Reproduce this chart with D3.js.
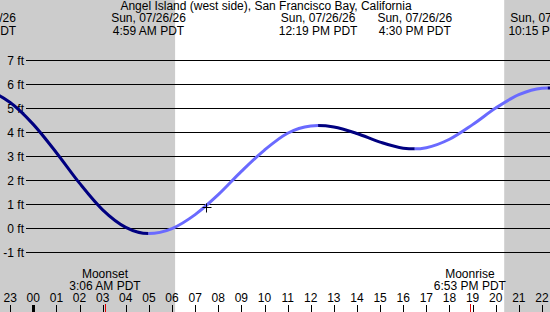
<!DOCTYPE html>
<html><head><meta charset="utf-8">
<script src="https://cdn.jsdelivr.net/npm/d3@7"></script>
<style>
html,body{margin:0;padding:0;background:#fff;}
svg{display:block;font-family:"Liberation Sans",Arial,sans-serif;}
</style></head>
<body>
<script>
// ---- data (hours relative to midnight, Sun 07/26/26, PDT) ----
const title = "Angel Island (west side), San Francisco Bay, California";
const hourlyTimes = [-2,-1,0,1,2,3,4,5,6,7,8,9,10,11,12,13,14,15,16,17,18,19,20,21,22,23];
const hourlyHeights = [5.72,5.24,4.33,3.15,1.88,0.77,0.04,-0.22,-0.01,0.57,1.40,2.37,3.26,3.96,4.26,4.22,3.95,3.59,3.34,3.36,3.71,4.32,5.01,5.57,5.84,5.73];
const eventHours = [-2.3, 4.983, 12.317, 16.5, 22.25];
const eventHeights = [5.75, -0.22, 4.28, 3.31, 5.85];
const eventDates = ["Sat, 07/25/26","Sun, 07/26/26","Sun, 07/26/26","Sun, 07/26/26","Sun, 07/26/26"];
const eventTimes = ["9:42 PM PDT","4:59 AM PDT","12:19 PM PDT","4:30 PM PDT","10:15 PM PDT"];
const sunriseHour = 6.133, sunsetHour = 20.367;
const moonEvents = [{name:"Moonset", time:"3:06 AM PDT", hour:3.1},{name:"Moonrise", time:"6:53 PM PDT", hour:18.883}];
const tickHours = d3.range(-1, 23);
const tickLabels = ["23","00","01","02","03","04","05","06","07","08","09","10","11","12","13","14","15","16","17","18","19","20","21","22"];
const yTicks = [-1,0,1,2,3,4,5,6,7];
const yTickLabels = ["-1 ft","0 ft","1 ft","2 ft","3 ft","4 ft","5 ft","6 ft","7 ft"];
const nowMark = {hour:7.47, height:0.89};

const W = 550, H = 312;
const x = d3.scaleLinear().domain([-1.44, 22.348]).range([0, W]);
const y = d3.scaleLinear().domain([-1, 7]).range([252.3, 60.3]);

const svg = d3.select("body").append("svg").attr("width", W).attr("height", H);
svg.append("rect").attr("width", W).attr("height", H).attr("fill", "#fff");

// night shading
svg.append("rect").attr("x", 0).attr("y", 0).attr("width", x(sunriseHour)).attr("height", H).attr("fill", "#cccccc");
svg.append("rect").attr("x", x(sunsetHour)).attr("y", 0).attr("width", W - x(sunsetHour)).attr("height", H).attr("fill", "#cccccc");

// grid lines + y labels
yTicks.forEach((v, i) => {
  const yy = Math.round(y(v)) + 0.5;
  svg.append("line").attr("x1", 26).attr("x2", W).attr("y1", yy).attr("y2", yy).attr("stroke", "#000").attr("stroke-width", 1);
  svg.append("text").attr("x", 24).attr("y", yy).attr("dy", "0.36em").attr("text-anchor", "end")
    .attr("font-size", 12).attr("fill", "#000").text(yTickLabels[i]);
});

// tide curve
let pts = hourlyTimes.map((t, i) => ({t, h: hourlyHeights[i]}))
  .filter(p => !eventHours.some(e => Math.abs(e - p.t) < 0.15));
eventHours.forEach((t, i) => pts.push({t, h: eventHeights[i]}));
pts.sort((a, b) => a.t - b.t);
const line = d3.line().x(d => x(d.t)).y(d => y(d.h)).curve(d3.curveMonotoneX);
const bounds = [-3].concat(eventHours).concat([24]);
const defs = svg.append("defs");
for (let i = 0; i < bounds.length - 1; i++) {
  const x0 = x(bounds[i]), x1 = x(bounds[i + 1]);
  defs.append("clipPath").attr("id", "seg" + i).append("rect")
    .attr("x", x0).attr("y", 0).attr("width", x1 - x0).attr("height", H);
  // falling segments dark, rising light
  const startH = i === 0 ? 6 : eventHeights[i - 1];
  const endH = i < eventHeights.length ? eventHeights[i] : 5;
  const color = endH < startH ? "#000080" : "#6a6aff";
  svg.append("path").attr("d", line(pts)).attr("fill", "none").attr("stroke", color)
    .attr("stroke-width", 3).attr("clip-path", "url(#seg" + i + ")");
}

// now marker "+"
const nx = Math.round(x(nowMark.hour)) + 0.5, ny = Math.round(y(nowMark.height)) + 0.5;
svg.append("line").attr("x1", nx - 4).attr("x2", nx + 5).attr("y1", ny).attr("y2", ny).attr("stroke", "#000");
svg.append("line").attr("x1", nx).attr("x2", nx).attr("y1", ny - 4).attr("y2", ny + 5).attr("stroke", "#000");

// title and event labels
svg.append("text").attr("x", 266).attr("y", 10).attr("text-anchor", "middle").attr("font-size", 12).text(title);
eventHours.forEach((t, i) => {
  svg.append("text").attr("x", x(t)).attr("y", 22).attr("text-anchor", "middle").attr("font-size", 12).text(eventDates[i]);
  svg.append("text").attr("x", x(t)).attr("y", 34.5).attr("text-anchor", "middle").attr("font-size", 12).text(eventTimes[i]);
});

// moon events
moonEvents.forEach(m => {
  svg.append("text").attr("x", x(m.hour)).attr("y", 278).attr("text-anchor", "middle").attr("font-size", 12).text(m.name);
  svg.append("text").attr("x", x(m.hour)).attr("y", 289.5).attr("text-anchor", "middle").attr("font-size", 12).text(m.time);
});

// hour ticks
tickHours.forEach((h, i) => {
  const tx = Math.round(x(h)) + 0.5;
  svg.append("line").attr("x1", tx).attr("x2", tx).attr("y1", 305).attr("y2", H)
    .attr("stroke", "#000").attr("stroke-width", h === 0 ? 3 : 1);
  svg.append("text").attr("x", x(h)).attr("y", 302).attr("text-anchor", "middle").attr("font-size", 12).text(tickLabels[i]);
});
moonEvents.forEach(m => {
  const tx = Math.round(x(m.hour)) + 0.5;
  svg.append("line").attr("x1", tx).attr("x2", tx).attr("y1", 304).attr("y2", H).attr("stroke", "#e00000").attr("stroke-width", 1);
});
</script>
</body></html>
